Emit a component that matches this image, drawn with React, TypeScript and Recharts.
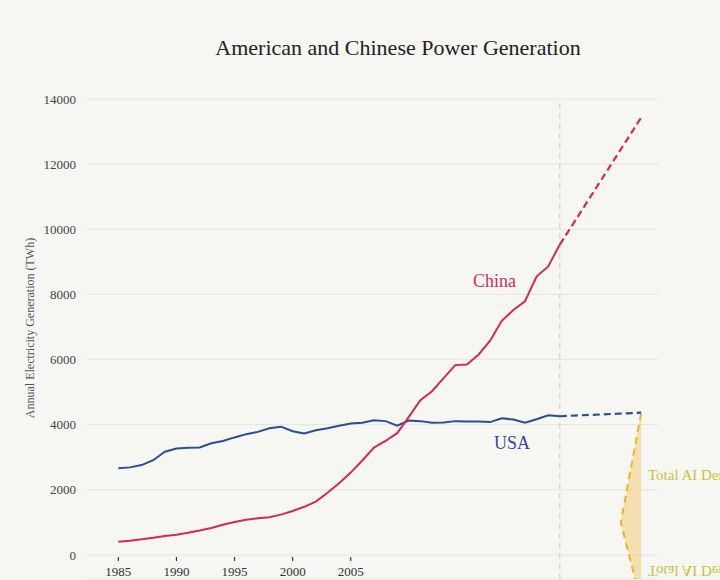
import {
  ComposedChart, Line, Area, XAxis, YAxis, CartesianGrid, ReferenceLine,
} from 'recharts'

// Historical generation, TWh
const YEARS = [
  1985, 1986, 1987, 1988, 1989, 1990, 1991, 1992, 1993, 1994,
  1995, 1996, 1997, 1998, 1999, 2000, 2001, 2002, 2003, 2004,
  2005, 2006, 2007, 2008, 2009, 2010, 2011, 2012, 2013, 2014,
  2015, 2016, 2017, 2018, 2019, 2020, 2021, 2022, 2023,
]
const CHINA = [
  410, 440, 480, 530, 580, 620, 680, 750, 830, 930,
  1010, 1080, 1130, 1160, 1240, 1350, 1480, 1640, 1910, 2200,
  2530, 2900, 3300, 3500, 3740, 4240, 4750, 5030, 5430, 5830,
  5850, 6150, 6580, 7190, 7520, 7790, 8550, 8860, 9530,
]
const USA = [
  2660, 2690, 2760, 2910, 3170, 3270, 3290, 3300, 3430, 3500,
  3610, 3710, 3780, 3890, 3940, 3800, 3730, 3830, 3890, 3970,
  4040, 4060, 4140, 4110, 3970, 4130, 4110, 4060, 4070, 4110,
  4100, 4100, 4080, 4200, 4160, 4060, 4170, 4290, 4260,
]

// Projections
const PROJ_YEARS = [2023, 2030]
const CHINA_PROJ = [9530, 13430]
const USA_PROJ = [4260, 4370]

// AI demand wedge
const AI_LINE_X = [2030, 2028.25, 2030]
const AI_LINE_Y = [4350, 1000, -1470]
const AI_FILL_X = [2028.25, 2030]
const AI_FILL_LOW = [1000, -1470]
const AI_FILL_HIGH = [1000, 4350]

const X_TICKS = [1985, 1990, 1995, 2000, 2005]
const Y_TICKS = [0, 2000, 4000, 6000, 8000, 10000, 12000, 14000]

const historical = YEARS.map((year, i) => ({ year, china: CHINA[i], usa: USA[i] }))
const projection = PROJ_YEARS.map((year, i) => ({ year, china: CHINA_PROJ[i], usa: USA_PROJ[i] }))
const aiLine = AI_LINE_X.map((year, i) => ({ year, ai: AI_LINE_Y[i] }))
const aiFill = AI_FILL_X.map((year, i) => ({ year, range: [AI_FILL_LOW[i], AI_FILL_HIGH[i]] }))

const FONT = '"Liberation Serif", "DejaVu Serif", serif'
const RED = '#D42A57'
const BLUE = '#2B4C9B'

// the x axis sits at the bottom of the (extended) plot; pull ticks up to the zero line
function YearTick({ x, y, payload }: any) {
  const top = y - 24
  return (
    <g>
      <line x1={x} x2={x} y1={top + 2} y2={top + 6} stroke="#333" strokeWidth={1.2} />
      <text x={x} y={top + 21} textAnchor="middle" fontFamily={FONT} fontSize={13} fill="#333">
        {payload.value}
      </text>
    </g>
  )
}

export default function App() {
  return (
    <div style={{ position: 'relative', width: 720, height: 580, background: '#F6F6F3', overflow: 'hidden' }}>
      <style>{'body{margin:0}'}</style>
      <ComposedChart width={720} height={580} margin={{ top: 99, right: 62, bottom: 0, left: 0 }}>
        <CartesianGrid horizontal vertical={false} stroke="#E4E4E0" />
        <XAxis
          type="number"
          dataKey="year"
          domain={[1982.3, 2031.45]}
          allowDataOverflow
          ticks={X_TICKS}
          interval={0}
          height={1}
          axisLine={false}
          tickLine={false}
          tickSize={0}
          tickMargin={0}
          tick={<YearTick />}
        />
        <YAxis
          type="number"
          domain={[-737, 14000]}
          allowDataOverflow
          ticks={Y_TICKS}
          interval={0}
          width={87}
          axisLine={false}
          tickLine={false}
          tickMargin={5}
          tick={{ fontFamily: FONT, fontSize: 13, fill: '#444' }}
        />
        <ReferenceLine x={2023} stroke="#CCCCCC" strokeDasharray="6 4" />
        <Area
          data={aiFill}
          dataKey="range"
          type="linear"
          stroke="none"
          fill="#F0C660"
          fillOpacity={0.45}
          isAnimationActive={false}
        />
        <Line
          data={aiLine}
          dataKey="ai"
          type="linear"
          stroke="#F2B31E"
          strokeWidth={2}
          strokeDasharray="7 5"
          dot={false}
          activeDot={false}
          isAnimationActive={false}
        />
        <Line data={historical} dataKey="usa" type="linear" stroke={BLUE} strokeWidth={2}
          dot={false} activeDot={false} isAnimationActive={false} />
        <Line data={historical} dataKey="china" type="linear" stroke={RED} strokeWidth={2}
          dot={false} activeDot={false} isAnimationActive={false} />
        <Line data={projection} dataKey="usa" type="linear" stroke={BLUE} strokeWidth={2.2}
          strokeDasharray="7 4" dot={false} activeDot={false} isAnimationActive={false} />
        <Line data={projection} dataKey="china" type="linear" stroke={RED} strokeWidth={2.2}
          strokeDasharray="7 4" dot={false} activeDot={false} isAnimationActive={false} />
      </ComposedChart>

      <svg width={720} height={580} style={{ position: 'absolute', left: 0, top: 0, pointerEvents: 'none' }}>
        <text x={398} y={55} textAnchor="middle" fontFamily={FONT} fontSize={22} fill="#222">
          American and Chinese Power Generation
        </text>
        <text
          transform="translate(34,328) rotate(-90)"
          textAnchor="middle"
          fontFamily={FONT}
          fontSize={12}
          fill="#555"
        >
          Annual Electricity Generation (TWh)
        </text>
        <text x={473} y={287} fontFamily={FONT} fontSize={18} fill="#D0305E">China</text>
        <text x={494} y={449} fontFamily={FONT} fontSize={18} fill="#34469A">USA</text>
        <text x={648} y={480} fontFamily={FONT} fontSize={15} fill="#C9C23E">Total AI Demand</text>
        <text transform="translate(648,566) scale(1,-1)" fontFamily={FONT} fontSize={15} fill="#C9C23E">
          Total AI Demand
        </text>
      </svg>
    </div>
  )
}
